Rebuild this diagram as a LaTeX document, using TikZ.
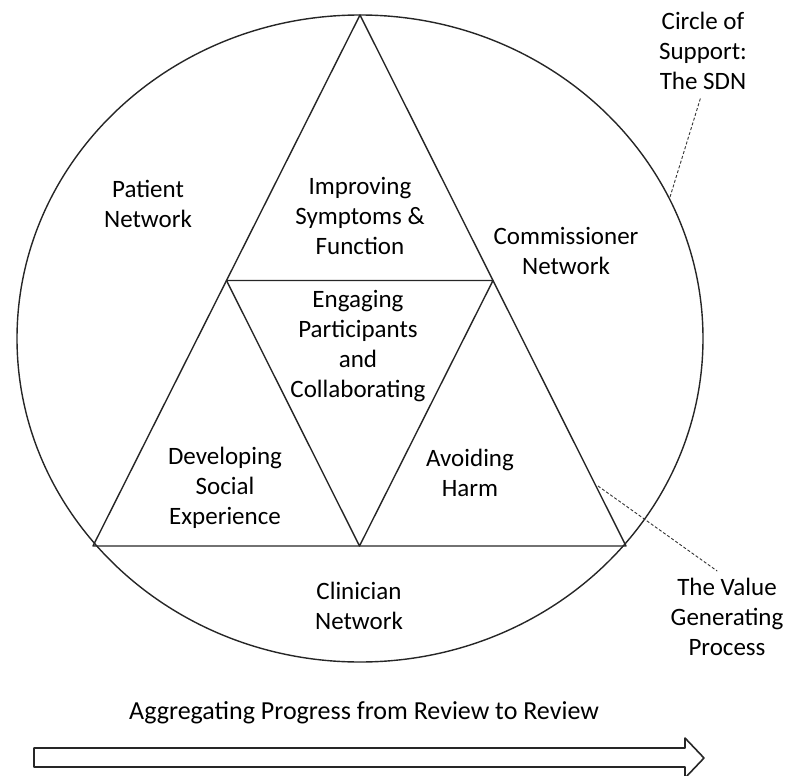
\documentclass[tikz,border=0pt]{standalone}
\usepackage{fontspec}
\setmainfont{Carlito}
\usetikzlibrary{calc}
\begin{document}
\begin{tikzpicture}[x=1pt,y=-1pt,
  txt/.style={align=center,font=\fontsize{25}{30}\selectfont,inner sep=0pt},
  edge/.style={draw=black!85,line width=1.4pt,line join=round},
  leader/.style={draw=black!80,line width=0.9pt,dash pattern=on 3pt off 2pt}]
\useasboundingbox (0,0) rectangle (787,776);

% outer circle of support
\coordinate (c) at (360,338.5);
\draw[edge] (c) ellipse [x radius=343, y radius=323.5];

% the value generating triangle and its inner triangle
\coordinate (top) at (360,15);
\coordinate (bl) at (93,546);
\coordinate (br) at (626,546);
\coordinate (ml) at ($(top)!0.5!(bl)$);
\coordinate (mr) at ($(top)!0.5!(br)$);
\coordinate (mb) at ($(bl)!0.5!(br)$);
\draw[edge] (top) -- (bl) -- (br) -- cycle;
\draw[edge] (ml) -- (mr) -- (mb) -- cycle;

% region labels
\node[txt] (patient) at (148,204) {Patient\\Network};
\node[txt] (improving) at (360,216) {Improving\\Symptoms \&\\Function};
\node[txt] (commissioner) at (566,251) {Commissioner\\Network};
\node[txt] (engaging) at (358,346) {Engaging\\Participants\\and\\Collaborating};
\node[txt] (developing) at (225,488) {Developing\\Social\\Experience};
\node[txt] (avoiding) at (470,473) {Avoiding\\Harm};
\node[txt] (clinician) at (359,606) {Clinician\\Network};

% callouts
\node[txt] (support) at (703,51) {Circle of\\Support:\\The SDN};
\node[txt] (value) at (727,617) {The Value\\Generating\\Process};
\coordinate (onCircle) at (670,197);
\coordinate (onEdge) at (598,486);
\draw[leader,shorten >=9pt] (onCircle) -- (support.south);
\draw[leader,shorten >=12pt] (onEdge) -- (value.north);

% progress arrow
\node[txt,font=\fontsize{26}{30}\selectfont,anchor=base] (progress) at (364,719)
  {Aggregating Progress from Review to Review};
\draw[edge,line width=1.6pt,fill=white] (34,748) -- (685,748) -- (685,738) -- (704,758)
  -- (685,778) -- (685,767) -- (34,767) -- cycle;
\end{tikzpicture}
\end{document}
